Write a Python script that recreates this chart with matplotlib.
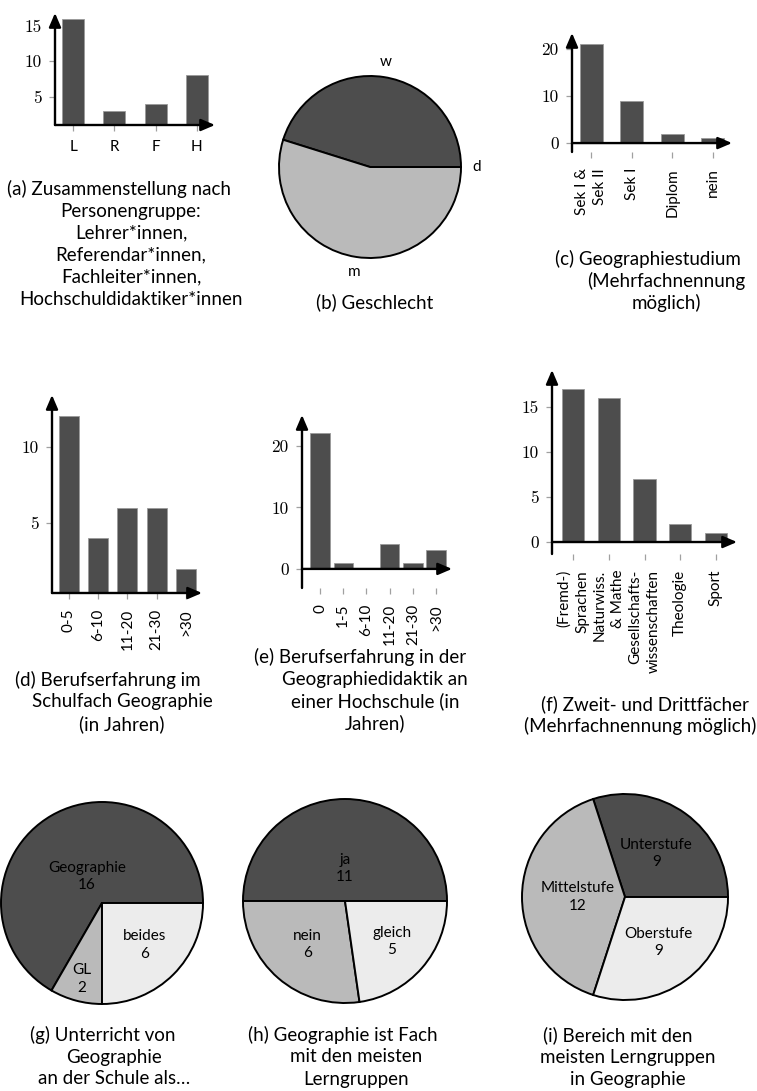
#!/usr/bin/env python
# Survey overview: bar and pie charts of the participant sample (a)-(i)
import matplotlib

matplotlib.use("Agg")
import matplotlib.pyplot as plt
import numpy as np
from matplotlib.patches import ArrowStyle

# (a) Personengruppe
group_labels = ["L", "R", "F", "H"]
group_counts = [16, 3, 4, 8]

# (b) Geschlecht
gender_labels = ["w", "m", "d"]
gender_counts = [14, 17, 0]

# (c) Geographiestudium
study_labels = ["Sek I &\nSek II", "Sek I", "Diplom", "nein"]
study_counts = [21, 9, 2, 1]

# (d) Berufserfahrung Schule
school_labels = ["0-5", "6-10", "11-20", "21-30", ">30"]
school_counts = [12, 4, 6, 6, 2]

# (e) Berufserfahrung Hochschule
uni_labels = ["0", "1-5", "6-10", "11-20", "21-30", ">30"]
uni_counts = [22, 1, 0, 4, 1, 3]

# (f) Zweit- und Drittfächer
subject_labels = ["(Fremd-)\nSprachen", "Naturwiss.\n& Mathe",
                  "Gesellschafts-\nwissenschaften", "Theologie", "Sport"]
subject_counts = [17, 16, 7, 2, 1]

# (g) Unterricht als ...
teach_labels = ["Geographie", "GL", "beides"]
teach_counts = [16, 2, 6]

# (h) Fach mit den meisten Lerngruppen
most_labels = ["ja", "nein", "gleich"]
most_counts = [11, 6, 5]

# (i) Bereich mit den meisten Lerngruppen
level_labels = ["Unterstufe", "Mittelstufe", "Oberstufe"]
level_counts = [9, 12, 9]

DARK, MID, LIGHT = "#4d4d4d", "#bababa", "#ececec"
SANS = "Lato"
SERIF = "cmr10"
CAP_SIZE = 13.5
TICK_SIZE = 11

W, H = 757, 1091
fig = plt.figure(figsize=(W / 100, H / 100), dpi=100)


def px_axes(l, t, r, b):
    return fig.add_axes([l / W, 1 - b / H, (r - l) / W, (b - t) / H])


def arrows(ax):
    style = ArrowStyle("-|>", head_length=0.7, head_width=0.3)
    kw = dict(arrowstyle=style, color="black", lw=1.7, mutation_scale=12,
              shrinkA=0, shrinkB=0)
    ax.annotate("", xy=(0, 1), xytext=(0, 0), xycoords="axes fraction",
                arrowprops=kw, annotation_clip=False)
    y0 = max(0, ax.get_ylim()[0])
    ax.annotate("", xy=(1, y0), xytext=(0, y0), xycoords=ax.get_yaxis_transform(),
                arrowprops=kw, annotation_clip=False)


def bar_panel(box, labels, counts, xlim, ylim, yticks, width, rotate=True):
    ax = px_axes(*box)
    x = np.arange(len(counts))
    ax.bar(x, counts, width=width, color=DARK, edgecolor="#9a9a9a", linewidth=0.6)
    ax.set_xlim(*xlim)
    ax.set_ylim(*ylim)
    for s in ax.spines.values():
        s.set_visible(False)
    ax.set_yticks(yticks)
    ax.set_yticklabels([str(v) for v in yticks], fontfamily=SERIF, fontsize=12.5)
    ax.set_xticks(x)
    if rotate:
        ax.set_xticklabels(labels, rotation=90, fontfamily=SANS, fontsize=TICK_SIZE,
                           ha="center", va="top", multialignment="right",
                           linespacing=1.4)
        ax.tick_params(axis="x", pad=7)
    else:
        ax.set_xticklabels(labels, fontfamily=SANS, fontsize=TICK_SIZE)
        ax.tick_params(axis="x", pad=6)
    ax.tick_params(direction="out", length=4.5, width=0.9, color="#a0a0a0")
    ax.tick_params(axis="y", pad=5)
    ax.patch.set_visible(False)
    arrows(ax)
    return ax


def pie_panel(cx, cy, r, counts, colors):
    ax = px_axes(cx - r, cy - r, cx + r, cy + r)
    wedges, _ = ax.pie(counts, colors=colors, startangle=0, counterclock=True,
                       radius=1,
                       wedgeprops=dict(edgecolor="black", linewidth=1.4))
    ax.set_xlim(-1, 1)
    ax.set_ylim(-1, 1)
    ax.set_aspect("equal")
    ax.axis("off")
    return ax, wedges


def inside_labels(ax, wedges, labels, counts, dists):
    for w, lab, n, d in zip(wedges, labels, counts, dists):
        mid = np.deg2rad((w.theta1 + w.theta2) / 2)
        ax.text(d * np.cos(mid), d * np.sin(mid), f"{lab}\n{n}", ha="center",
                va="center", fontsize=11, fontfamily=SANS, linespacing=1.3)


def caption(first, rest, x_first, x_rest, y0, step=22):
    fig.text(x_first / W, 1 - y0 / H, first, ha="center", va="center",
             fontsize=CAP_SIZE, fontfamily=SANS)
    for i, line in enumerate(rest, start=1):
        fig.text(x_rest / W, 1 - (y0 + i * step) / H, line, ha="center",
                 va="center", fontsize=CAP_SIZE, fontfamily=SANS)


# --- top row ---
bar_panel((55, 13, 215, 125), group_labels, group_counts,
          (-0.44, 3.44), (1, 16.8), [5, 10, 15], 0.53, rotate=False)
caption("(a) Zusammenstellung nach",
        ["Personengruppe:", "Lehrer*innen,", "Referendar*innen,",
         "Fachleiter*innen,", "Hochschuldidaktiker*innen"], 119, 131, 189)

ax_b, w_b = pie_panel(370, 167, 91, gender_counts, [DARK, MID, LIGHT])
for w, lab in zip(w_b, gender_labels):
    mid = np.deg2rad((w.theta1 + w.theta2) / 2)
    ax_b.text(1.17 * np.cos(mid), 1.17 * np.sin(mid), lab, ha="center",
              va="center", fontsize=11, fontfamily=SANS)
caption("(b) Geschlecht", [], 375, 375, 302)

bar_panel((572, 33, 732, 152), study_labels, study_counts,
          (-0.47, 3.47), (-1.9, 23.4), [0, 10, 20], 0.57)
caption("(c) Geographiestudium", ["(Mehrfachnennung", "möglich)"], 648, 666, 259)

# --- middle row ---
bar_panel((52, 395, 202, 593), school_labels, school_counts,
          (-0.58, 4.55), (0.4, 13.4), [5, 10], 0.68)
caption("(d) Berufserfahrung im", ["Schulfach Geographie", "(in Jahren)"],
        108, 122, 680)

bar_panel((302, 415, 452, 588), uni_labels, uni_counts,
          (-0.78, 5.69), (-3.1, 25.0), [0, 10, 20], 0.84)
caption("(e) Berufserfahrung in der",
        ["Geographiedidaktik an", "einer Hochschule (in", "Jahren)"],
        360, 375, 657)

bar_panel((552, 370, 737, 554), subject_labels, subject_counts,
          (-0.59, 4.59), (-1.33, 19.1), [0, 5, 10, 15], 0.62)
caption("(f) Zweit- und Drittfächer", ["(Mehrfachnennung möglich)"],
        645, 640, 704)

# --- bottom row ---
ax_g, w_g = pie_panel(102, 903, 101, teach_counts, [DARK, MID, LIGHT])
inside_labels(ax_g, w_g, teach_labels, teach_counts, [0.30, 0.78, 0.59])
caption("(g) Unterricht von", ["Geographie", "an der Schule als…"],
        103, 114, 1035)

ax_h, w_h = pie_panel(345, 901, 102, most_counts, [DARK, MID, LIGHT])
inside_labels(ax_h, w_h, most_labels, most_counts, [0.32, 0.56, 0.61])
caption("(h) Geographie ist Fach", ["mit den meisten", "Lerngruppen"],
        343, 356, 1035)

ax_i, w_i = pie_panel(625, 897, 103, level_counts, [DARK, MID, LIGHT])
inside_labels(ax_i, w_i, level_labels, level_counts, [0.52, 0.46, 0.55])
caption("(i) Bereich mit den", ["meisten Lerngruppen", "in Geographie"],
        618, 628, 1035)

fig.savefig("out.png", dpi=100)
